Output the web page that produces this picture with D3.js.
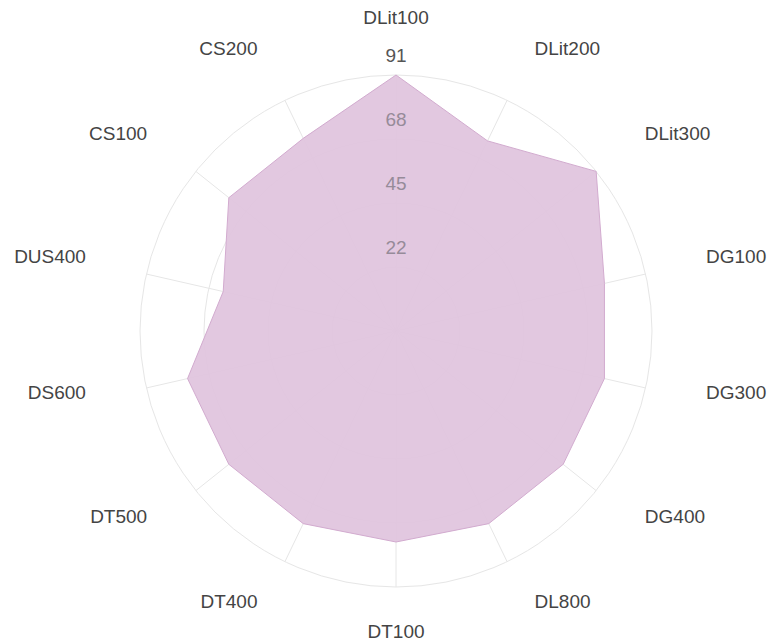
<!DOCTYPE html>
<html>
<head>
<meta charset="utf-8">
<script src="https://cdn.jsdelivr.net/npm/d3@7"></script>
<style>
  body { margin: 0; background: #fff; }
  svg text { font-family: "Liberation Sans", Arial, sans-serif; }
</style>
</head>
<body>
<div id="chart"></div>
<script>
// axis names, clockwise from the top
const categories = ["DLit100", "DLit200", "DLit300", "DG100", "DG300", "DG400", "DL800",
                    "DT100", "DT400", "DT500", "DS600", "DUS400", "CS100", "CS200"];
const values = [91, 75, 91, 76, 76, 76, 76, 75, 76, 76, 76, 63, 76, 76];
const tickValues = [22.75, 45.5, 68.25, 91];
const tickLabels = ["22", "45", "68", "91"];
const maxValue = 91;

const width = 772, height = 643;
const cx = 396, cy = 331, radius = 256;

let svg = d3.select("#chart")
    .append("svg")
    .attr("width", width)
    .attr("height", height)
    .append("g")
    .attr("transform", `translate(${cx}, ${cy})`);

let r = d3.scaleLinear().domain([0, maxValue]).range([0, radius]);
let angle = d3.scaleLinear().domain([0, categories.length]).range([0, 2 * Math.PI]);

// rings
svg.selectAll(".ring")
    .data(tickValues)
    .enter()
    .append("circle")
    .attr("class", "ring")
    .attr("r", d => r(d))
    .attr("fill", "none")
    .attr("stroke", "#e6e6e6")
    .attr("stroke-width", 1);

// spokes
svg.selectAll(".spoke")
    .data(categories)
    .enter()
    .append("line")
    .attr("class", "spoke")
    .attr("x1", 0).attr("y1", 0)
    .attr("x2", (d, i) => r(maxValue) * Math.sin(angle(i)))
    .attr("y2", (d, i) => -r(maxValue) * Math.cos(angle(i)))
    .attr("stroke", "#e6e6e6")
    .attr("stroke-width", 1);

// area
let line = d3.lineRadial()
    .angle((d, i) => angle(i))
    .radius(d => r(d))
    .curve(d3.curveLinearClosed);

svg.append("path")
    .datum(values)
    .attr("d", line)
    .attr("fill", "#e0c4de")
    .attr("fill-opacity", 0.93)
    .attr("stroke", "#d2abcf")
    .attr("stroke-width", 1);

// tick labels; the ones inside the area look washed out
svg.selectAll(".tick")
    .data(tickValues)
    .enter()
    .append("text")
    .attr("class", "tick")
    .attr("x", 0)
    .attr("y", d => -r(d) - 20)
    .attr("dy", "0.35em")
    .style("text-anchor", "middle")
    .style("font-size", "19px")
    .attr("fill", d => d < values[0] ? "#968b99" : "#555")
    .text((d, i) => tickLabels[i]);

// axis labels
svg.selectAll(".label")
    .data(categories)
    .enter()
    .append("text")
    .attr("class", "label")
    .attr("x", (d, i) => {
        let s = Math.sin(angle(i));
        return Math.abs(s) < 0.1 ? 0 : 317 * s + (s > 0 ? 1 : -1);
    })
    .attr("y", (d, i) => -6.5 - 307 * Math.cos(angle(i)))
    .attr("dy", "0.35em")
    .style("text-anchor", (d, i) => {
        let s = Math.sin(angle(i));
        return Math.abs(s) < 0.1 ? "middle" : (s > 0 ? "start" : "end");
    })
    .style("font-size", "19px")
    .attr("fill", "#444")
    .text(d => d);
</script>
</body>
</html>
